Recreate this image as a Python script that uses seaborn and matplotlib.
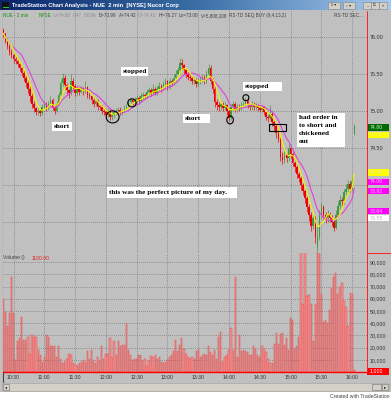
import numpy as np
import pandas as pd
import matplotlib
matplotlib.use("Agg")
import matplotlib.pyplot as plt
import seaborn as sns
from matplotlib.patches import Rectangle, Ellipse
from matplotlib.colors import LinearSegmentedColormap

# ---------------- data (2-minute bars, NUE) ----------------
closes = [76.05, 75.95, 75.88, 75.80, 75.76, 75.70, 75.68, 75.64, 75.58, 75.52,
          75.45, 75.38, 75.30, 75.20, 75.10, 75.04, 74.98, 75.00, 74.97, 75.06,
          75.10, 75.04, 75.10, 75.15, 75.05, 75.00, 75.10, 75.22, 75.38, 75.45,
          75.35, 75.28, 75.24, 75.40, 75.34, 75.25, 75.30, 75.26, 75.30, 75.27,
          75.32, 75.22, 75.20, 75.15, 75.10, 75.14, 75.06, 75.05, 75.00, 74.98,
          74.95, 75.00, 74.92, 74.94, 74.98, 75.00, 75.02, 74.98, 75.00, 75.04,
          75.06, 75.12, 75.15, 75.12, 75.15, 75.18, 75.14, 75.20, 75.22, 75.20,
          75.26, 75.28, 75.24, 75.30, 75.25, 75.30, 75.34, 75.30, 75.36, 75.40,
          75.33, 75.40, 75.38, 75.44, 75.50, 75.55, 75.65, 75.62, 75.55, 75.50,
          75.46, 75.44, 75.40, 75.42, 75.36, 75.40, 75.42, 75.45, 75.40, 75.50,
          75.58, 75.40, 75.30, 75.12, 75.08, 75.05, 75.10, 75.04, 75.08, 75.00,
          74.90, 75.05, 75.10, 75.02, 75.06, 75.04, 75.08, 75.10, 75.15, 75.08,
          75.05, 75.10, 75.05, 75.08, 75.04, 75.02, 75.05, 74.98, 74.92, 74.90,
          74.96, 74.85, 74.80, 74.70, 74.62, 74.38, 74.34, 74.40, 74.36, 74.50,
          74.42, 74.30, 74.24, 74.15, 74.10, 74.00, 73.92, 73.82, 73.70, 73.60,
          73.45, 73.55, 73.30, 73.30, 73.60, 73.70, 73.60, 73.55, 73.60, 73.56,
          73.50, 73.42, 73.60, 73.72, 73.80, 73.78, 73.90, 73.95, 74.02, 73.95,
          74.05, 74.80]

opens = [76.10, 76.05, 75.95, 75.88, 75.80, 75.76, 75.70, 75.68, 75.64, 75.58,
         75.52, 75.45, 75.38, 75.30, 75.20, 75.10, 75.04, 74.98, 75.00, 74.97,
         75.06, 75.10, 75.04, 75.10, 75.15, 75.05, 75.00, 75.10, 75.22, 75.38,
         75.45, 75.35, 75.28, 75.24, 75.40, 75.34, 75.25, 75.30, 75.26, 75.30,
         75.27, 75.32, 75.22, 75.20, 75.15, 75.10, 75.14, 75.06, 75.05, 75.00,
         74.98, 74.95, 75.00, 74.92, 74.94, 74.98, 75.00, 75.02, 74.98, 75.00,
         75.04, 75.06, 75.12, 75.15, 75.12, 75.15, 75.18, 75.14, 75.20, 75.22,
         75.20, 75.26, 75.28, 75.24, 75.30, 75.25, 75.30, 75.34, 75.30, 75.36,
         75.40, 75.33, 75.40, 75.38, 75.44, 75.50, 75.55, 75.65, 75.62, 75.55,
         75.50, 75.46, 75.44, 75.40, 75.42, 75.36, 75.40, 75.42, 75.45, 75.40,
         75.50, 75.58, 75.40, 75.30, 75.12, 75.08, 75.05, 75.10, 75.04, 75.08,
         75.00, 74.90, 75.05, 75.10, 75.02, 75.06, 75.04, 75.08, 75.10, 75.15,
         75.08, 75.05, 75.10, 75.05, 75.08, 75.04, 75.02, 75.05, 74.98, 74.92,
         74.90, 74.96, 74.85, 74.80, 74.70, 74.62, 74.38, 74.34, 74.40, 74.36,
         74.50, 74.42, 74.30, 74.24, 74.15, 74.10, 74.00, 73.92, 73.82, 73.70,
         73.60, 73.45, 73.55, 73.15, 73.30, 73.60, 73.70, 73.60, 73.55, 73.60,
         73.56, 73.50, 73.42, 73.60, 73.72, 73.80, 73.78, 73.90, 73.95, 74.02,
         73.95, 74.70]

highs = [76.12, 76.06, 75.98, 75.90, 75.84, 75.78, 75.74, 75.72, 75.66, 75.62,
         75.55, 75.48, 75.42, 75.35, 75.24, 75.13, 75.06, 75.04, 75.03, 75.10,
         75.14, 75.12, 75.13, 75.20, 75.17, 75.08, 75.14, 75.26, 75.42, 75.52,
         75.48, 75.38, 75.30, 75.50, 75.44, 75.36, 75.35, 75.33, 75.34, 75.33,
         75.40, 75.34, 75.26, 75.22, 75.18, 75.18, 75.16, 75.10, 75.08, 75.03,
         75.01, 75.04, 75.03, 74.98, 75.02, 75.04, 75.06, 75.05, 75.03, 75.08,
         75.10, 75.16, 75.18, 75.18, 75.19, 75.22, 75.20, 75.24, 75.26, 75.25,
         75.30, 75.32, 75.31, 75.36, 75.33, 75.34, 75.39, 75.37, 75.41, 75.45,
         75.42, 75.44, 75.43, 75.50, 75.55, 75.60, 75.72, 75.70, 75.64, 75.58,
         75.53, 75.50, 75.47, 75.46, 75.44, 75.44, 75.47, 75.50, 75.48, 75.55,
         75.63, 75.62, 75.44, 75.34, 75.16, 75.12, 75.14, 75.12, 75.12, 75.10,
         75.04, 75.10, 75.14, 75.12, 75.10, 75.09, 75.12, 75.14, 75.19, 75.17,
         75.10, 75.13, 75.12, 75.11, 75.10, 75.07, 75.08, 75.07, 75.00, 74.95,
         75.08, 75.00, 74.88, 74.83, 74.74, 74.65, 74.44, 74.46, 74.43, 74.55,
         74.52, 74.44, 74.33, 74.27, 74.18, 74.13, 74.03, 73.95, 73.85, 73.74,
         73.64, 73.60, 73.58, 73.45, 73.66, 73.76, 73.73, 73.64, 73.66, 73.63,
         73.60, 73.54, 73.66, 73.78, 73.86, 73.84, 73.95, 74.02, 74.07, 74.05,
         74.10, 74.82]

lows = [76.00, 75.92, 75.84, 75.76, 75.72, 75.65, 75.64, 75.60, 75.54, 75.47,
        75.40, 75.33, 75.25, 75.12, 75.04, 74.98, 74.94, 74.95, 74.93, 74.95,
        75.03, 75.00, 75.02, 75.08, 75.02, 74.96, 74.98, 75.08, 75.20, 75.34,
        75.30, 75.22, 75.18, 75.22, 75.30, 75.20, 75.22, 75.22, 75.24, 75.22,
        75.25, 75.18, 75.16, 75.10, 75.06, 75.07, 75.02, 75.01, 74.96, 74.94,
        74.90, 74.92, 74.88, 74.88, 74.91, 74.95, 74.97, 74.95, 74.95, 74.98,
        75.01, 75.04, 75.09, 75.08, 75.10, 75.12, 75.10, 75.12, 75.16, 75.16,
        75.18, 75.22, 75.20, 75.22, 75.21, 75.22, 75.27, 75.26, 75.28, 75.32,
        75.28, 75.30, 75.34, 75.35, 75.40, 75.47, 75.52, 75.56, 75.50, 75.45,
        75.42, 75.40, 75.36, 75.37, 75.32, 75.33, 75.37, 75.39, 75.36, 75.38,
        75.47, 75.36, 75.25, 75.05, 75.02, 75.00, 75.02, 75.00, 75.01, 74.95,
        74.86, 74.88, 75.02, 74.98, 74.99, 75.00, 75.01, 75.05, 75.07, 75.04,
        75.01, 75.02, 75.01, 75.02, 75.00, 74.98, 74.98, 74.94, 74.88, 74.85,
        74.88, 74.80, 74.74, 74.64, 74.58, 74.33, 74.29, 74.30, 74.31, 74.33,
        74.36, 74.25, 74.18, 74.10, 74.04, 73.93, 73.86, 73.76, 73.64, 73.52,
        73.38, 73.40, 73.22, 73.08, 73.26, 73.55, 73.54, 73.49, 73.50, 73.50,
        73.44, 73.38, 73.40, 73.57, 73.68, 73.72, 73.74, 73.86, 73.90, 73.90,
        73.92, 74.67]

volume_k = [60, 49, 38, 48, 78, 48, 10, 25, 28, 45,
            26, 26, 29, 15, 30, 29, 29, 18, 14, 8.5,
            12.6, 30, 29, 21, 21, 21, 12.6, 21, 11, 7,
            8.5, 11, 15, 14, 7, 5.7, 5.7, 7, 8.5, 10,
            8.5, 17, 11, 18, 10, 7, 12, 10, 21, 10.5,
            15, 15, 28, 12.6, 25, 14, 25, 21, 22, 22,
            40, 18, 14, 10, 11, 11, 14, 14, 9, 11,
            5, 9, 13, 12, 14, 10.5, 12, 8.5, 7, 8.5,
            10, 12, 14, 17, 26, 17, 22, 28, 19, 15,
            12.6, 11, 12.6, 11, 17, 18, 12.6, 14, 15, 14,
            21, 16, 14, 18, 11, 29, 33, 8.5, 12.6, 14,
            18, 36, 18, 78, 12.6, 30, 17, 18, 17, 16,
            14, 14, 21, 19, 14, 12, 21, 19, 16, 10.5,
            7, 7, 23, 32, 23, 31, 32, 22, 28, 18,
            44, 43, 19, 21, 29, 120, 56, 120, 62, 63,
            56, 25, 56, 120, 120, 64, 41, 43, 40, 51,
            69, 78, 81, 64, 70, 73, 58, 53, 38, 65,
            64, 1.5]

time_labels = ["10:30", "11:00", "11:30", "12:00", "12:30", "13:00",
               "13:30", "14:00", "14:30", "15:00", "15:30", "16:00"]
time_label_bars = [5, 20, 35, 50, 65, 80, 95, 110, 125, 140, 155, 170]
price_ticks = [73.5, 74.0, 74.5, 75.0, 75.5, 76.0]
price_tick_labels = ["", "", "74.50", "75.00", "75.50", "76.00"]
vol_ticks = [10000, 20000, 30000, 40000, 50000, 60000, 70000, 80000, 90000]
vol_tick_labels = ["10,000", "20,000", "30,000", "40,000", "50,000",
                   "60,000", "70,000", "80,000", "90,000"]

# right-side value flags: (label, facecolor, textcolor, top px, bottom px)
flags = [("74.80", "#006A00", "#CFEFCF", 124.0, 130.5),
         ("74.70", "#FFFF00", "#E6E6A8", 131.5, 137.5),
         ("74.13", "#FFFF00", "#E6E6A8", 169.0, 175.5),
         ("74.06", "#FF00FF", "#FFC8FF", 178.5, 184.5),
         ("73.92", "#FF00FF", "#FFC8FF", 188.0, 194.0),
         ("73.64", "#FF00FF", "#FFC8FF", 208.0, 214.0),
         ("73.55", "#FFFFFF", "#B8B8B8", 215.0, 221.0)]

# ---------------- figure ----------------
sns.set_style("white")
plt.rcParams["font.family"] = ["Liberation Sans", "DejaVu Sans"]

W, H = 391, 400
fig = plt.figure(figsize=(W / 100, H / 100), dpi=100, facecolor="white")

# background / window chrome in pixel coordinates
bg = fig.add_axes([0, 0, 1, 1], zorder=-10)
bg.set_xlim(0, W)
bg.set_ylim(H, 0)
bg.axis("off")
bg.add_patch(Rectangle((0, 0), W, 392, color="#C0C0C0", lw=0))
grad = np.linspace(0, 1, 256).reshape(1, -1)
cmap = LinearSegmentedColormap.from_list("tb", ["#0A246A", "#3A6EA5", "#A6CAF0"])
bg.imshow(grad, cmap=cmap, extent=(0, W, 10.5, 0), aspect="auto", zorder=1)
bg.add_patch(Rectangle((2, 2), 7, 6.5, color="#101010", lw=0, zorder=2))
bg.plot([3, 8], [6.5, 6.5], color="#30C030", lw=0.8, zorder=3)
bg.text(12, 5.5, "TradeStation Chart Analysis - NUE  2 min  [NYSE] Nucor Corp",
        color="white", fontsize=4.1, fontweight="bold", va="center", ha="left", zorder=3)
for (bx, bw, lab) in [(328, 12, "5 \u25be"), (343, 12, "\u2195 \u25be")]:
    bg.add_patch(Rectangle((bx, 2), bw, 6.5, facecolor="#D4D0C8", edgecolor="#808080", lw=0.4, zorder=3))
    bg.text(bx + bw / 2, 5.4, lab, fontsize=2.8, ha="center", va="center", color="#202020", zorder=4)
for bx, lab in [(363, "_"), (371, "\u25a1"), (379, "\u00d7")]:
    bg.add_patch(Rectangle((bx, 2), 7.5, 6.5, facecolor="#D4D0C8", edgecolor="#808080", lw=0.4, zorder=3))
    bg.text(bx + 3.75, 5.2, lab, fontsize=3.2, ha="center", va="center", color="#101010", zorder=4)
# scrollbar & footer
bg.add_patch(Rectangle((2, 383), 387, 8, facecolor="#D4D0C8", edgecolor="#A0A0A0", lw=0.4, zorder=2))
bg.add_patch(Rectangle((3, 384), 6, 6, facecolor="#D4D0C8", edgecolor="#707070", lw=0.4, zorder=3))
bg.text(6, 387, "\u25c2", fontsize=3, ha="center", va="center", color="black", zorder=4)
bg.add_patch(Rectangle((372, 384), 9, 6, facecolor="#D4D0C8", edgecolor="#707070", lw=0.4, zorder=3))
bg.add_patch(Rectangle((382, 384), 6, 6, facecolor="#D4D0C8", edgecolor="#707070", lw=0.4, zorder=3))
bg.text(385, 387, "\u25b8", fontsize=3, ha="center", va="center", color="black", zorder=4)
bg.plot([2.5, 2.5], [10.5, 382], color="#404040", lw=0.8, zorder=3)
bg.text(390, 396.5, "Created with TradeStation", fontsize=3.7, ha="right", va="center",
        color="#404040")

# ---------------- data frame ----------------
df = pd.DataFrame({"bar": np.arange(len(closes)), "open": opens, "high": highs,
                   "low": lows, "close": closes,
                   "volume": np.array(volume_k) * 1000.0})
df["ma_fast"] = df["close"].rolling(5, min_periods=1).mean()
df["ma_slow"] = df["close"].rolling(10, min_periods=1).mean()

x0, x1 = -0.12, 177.2
axp = fig.add_axes([3 / W, 1 - 253 / H, 364 / W, 243 / H])
axv = fig.add_axes([3 / W, 1 - 372 / H, 364 / W, 119 / H])
for ax in (axp, axv):
    ax.set_facecolor("#C0C0C0")
    for s in ax.spines.values():
        s.set_visible(False)
    ax.set_axisbelow(True)

# candles
up = (df["close"] >= df["open"]).to_numpy()
cols = np.where(up, "#3C9C3C", "#F20000")
axp.vlines(df["bar"], df["low"], df["high"], colors=cols, lw=0.5, zorder=3)
body = (df["close"] - df["open"]).abs().clip(lower=0.012)
axp.bar(df["bar"], body, bottom=np.minimum(df["open"], df["close"]), width=0.75,
        color=cols, lw=0, zorder=4)
sns.lineplot(data=df, x="bar", y="ma_slow", ax=axp, color="#DD44DD", lw=0.8, zorder=5)
sns.lineplot(data=df, x="bar", y="ma_fast", ax=axp, color="#F4F400", lw=0.8, zorder=6)
axp.set_xlim(x0, x1)
axp.set_ylim(73.081, 76.365)
axp.set_xlabel("")
axp.set_ylabel("")
axp.set_xticks(time_label_bars, [""] * len(time_label_bars))
axp.yaxis.tick_right()
axp.set_yticks(price_ticks, price_tick_labels)
axp.tick_params(axis="both", length=0, labelsize=3.9, labelcolor="#303030", pad=2)
axp.grid(True, color="#5E5E5E", ls=(0, (1, 2)), lw=0.5)

# volume histogram
axv.bar(df["bar"], df["volume"], width=0.62, facecolor="#F29494",
        edgecolor="#E04A4A", lw=0.35, zorder=3)
axv.set_xlim(x0, x1)
axv.set_ylim(0, 97500)
axv.set_xlabel("")
axv.set_ylabel("")
axv.set_xticks(time_label_bars, time_labels)
axv.yaxis.tick_right()
axv.set_yticks(vol_ticks, vol_tick_labels)
axv.tick_params(axis="both", length=0, labelsize=3.8, labelcolor="#303030", pad=2)
axv.tick_params(axis="x", pad=2.3, labelsize=3.7)
axv.grid(True, color="#5E5E5E", ls=(0, (1, 2)), lw=0.5)
axv.axhline(0, color="#FF0000", lw=1.0, clip_on=False, zorder=6)

# annotations on the price pane (bar index / price coordinates)
for (cx, cy, w, h) in [(53.3, 74.92, 6.3, 0.162), (62.7, 75.11, 4.1, 0.108),
                       (110.5, 74.88, 3.2, 0.108), (118.2, 75.18, 2.9, 0.081)]:
    axp.add_patch(Ellipse((cx, cy), w, h, fill=False, ec="black", lw=0.8, zorder=8))
axp.add_patch(Rectangle((129.5, 74.73), 8.2, 0.095, fill=False, ec="black", lw=0.8, zorder=8))

# ---------------- overlay (pixel coordinates) ----------------
ov = fig.add_axes([0, 0, 1, 1], zorder=20)
ov.set_xlim(0, W)
ov.set_ylim(H, 0)
ov.axis("off")
ov.patch.set_alpha(0)

# info line (placed left to right, never overlapping)
info = [(3, "NUE - 2 min", "#109010"), (39, "NYSE", "#109010"),
        (53, "L=74.80", "#8C8C8C"), (73, "0.47", "#8C8C8C"), (82, "0.63%", "#8C8C8C"),
        (91, "B=73.99", "#404040"), (108, "A=74.42", "#404040"),
        (126, "O=74.43", "#8C8C8C"), (144, "Hi=76.27", "#404040"),
        (168, "Lo=73.08", "#404040"), (191, "V=5,808,108", "#404040"),
        (229, "RS-TD SEQ BUY (9,4,13,2)", "#404040"), (334, "RS-TD SEC...", "#404040")]
renderer = fig.canvas.get_renderer()
inv = ov.transData.inverted()
cur = 0
for x, s, c in info:
    xs = max(x, cur + 2.0)
    t = ov.text(xs, 15.5, s, fontsize=3.3, color=c, ha="left", va="center")
    bb = t.get_window_extent(renderer=renderer)
    cur = inv.transform((bb.x1, bb.y1))[0]

ov.text(3, 258, "Volume ()", fontsize=3.6, color="#404040", ha="left", va="center")
ov.text(32, 258, "1100.00", fontsize=3.6, color="#E02020", ha="left", va="center")

# red frame lines
ov.plot([367, 367], [10.5, 372], color="#FF2020", lw=0.7)
ov.plot([367, 391], [253, 253], color="#FF2020", lw=0.7)

for lab, fc, tc, t, b in flags:
    ov.add_patch(Rectangle((368, t), 21, b - t, facecolor=fc, edgecolor="none"))
    ov.text(370, (t + b) / 2 + 0.3, lab, fontsize=3.8, color=tc, ha="left", va="center")
ov.add_patch(Rectangle((367, 367.5), 22, 7, facecolor="#FF0000", edgecolor="none"))
ov.text(370, 371.2, "1,000", fontsize=3.8, color="white", ha="left", va="center")

# text notes
notes = [((52, 122, 20, 8.5), [(54, 126.5, "short")]),
         ((121, 67, 27, 8.5), [(123, 71.3, "stopped")]),
         ((183, 114, 27, 9), [(185, 118.5, "short")]),
         ((243, 82, 39, 9), [(245, 86.5, "stopped")]),
         ((297, 113, 48, 34), [(299, 117.3, "had order in"), (299, 125.5, "to short and"),
                               (299, 133.5, "chickened"), (299, 141.5, "out")]),
         ((107, 187, 130, 11), [(109, 192.5, "this was the perfect picture of my day.")])]
for (bx, by, bw, bh), lines in notes:
    ov.add_patch(Rectangle((bx, by), bw, bh, facecolor="white", edgecolor="none"))
    for tx, ty, s in lines:
        ov.text(tx, ty, s, fontsize=5.2, fontweight="bold", family=["Liberation Serif", "DejaVu Serif"],
                color="black", ha="left", va="center")

fig.savefig("out.png", dpi=100, facecolor="white")
